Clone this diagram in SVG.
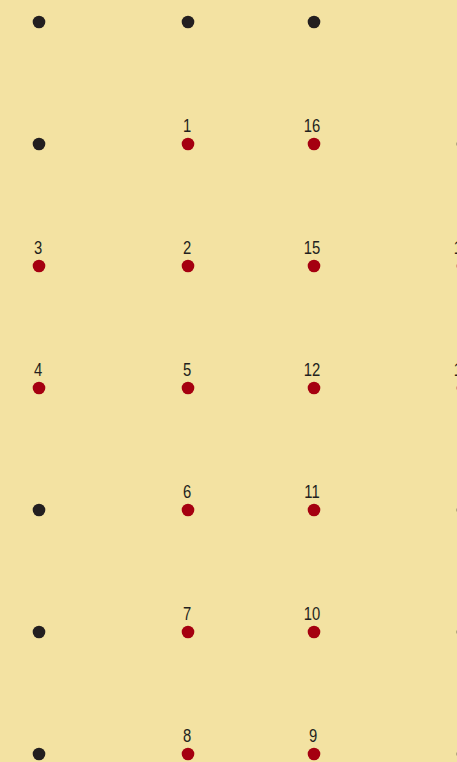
<svg xmlns="http://www.w3.org/2000/svg" width="457" height="762" viewBox="0 0 457 762">
<style>
.bg{fill:#F3E2A2}
.k{fill:#231F20}
.r{fill:#A50010}
.t{font-family:"Liberation Sans",Arial,sans-serif;font-size:19px;fill:#231F20;text-anchor:middle}
</style>
<rect class="bg" width="457" height="762"/>
<g id="grid-plain">
<circle class="k" cx="39" cy="22" r="6.3"/>
<circle class="k" cx="188" cy="22" r="6.3"/>
<circle class="k" cx="314" cy="22" r="6.3"/>
<circle class="k" cx="464" cy="22" r="6.3"/>
<circle class="k" cx="39" cy="144" r="6.3"/>
<circle class="k" cx="463" cy="144" r="6.3"/>
<circle class="k" cx="39" cy="510" r="6.3"/>
<circle class="k" cx="463" cy="510" r="6.3"/>
<circle class="k" cx="39" cy="632" r="6.3"/>
<circle class="k" cx="463" cy="632" r="6.3"/>
<circle class="k" cx="39" cy="754" r="6.3"/>
<circle class="k" cx="463" cy="754" r="6.3"/>
</g>
<g id="n1"><circle class="r" cx="188" cy="144" r="6.3"/><text class="t" transform="translate(187 132) scale(0.78 1)">1</text></g>
<g id="n2"><circle class="r" cx="188" cy="266" r="6.3"/><text class="t" transform="translate(187 254) scale(0.78 1)">2</text></g>
<g id="n3"><circle class="r" cx="39" cy="266" r="6.3"/><text class="t" transform="translate(38 254) scale(0.78 1)">3</text></g>
<g id="n4"><circle class="r" cx="39" cy="388" r="6.3"/><text class="t" transform="translate(38 376) scale(0.78 1)">4</text></g>
<g id="n5"><circle class="r" cx="188" cy="388" r="6.3"/><text class="t" transform="translate(187 376) scale(0.78 1)">5</text></g>
<g id="n6"><circle class="r" cx="188" cy="510" r="6.3"/><text class="t" transform="translate(187 498) scale(0.78 1)">6</text></g>
<g id="n7"><circle class="r" cx="188" cy="632" r="6.3"/><text class="t" transform="translate(187 620) scale(0.78 1)">7</text></g>
<g id="n8"><circle class="r" cx="188" cy="754" r="6.3"/><text class="t" transform="translate(187 742) scale(0.78 1)">8</text></g>
<g id="n9"><circle class="r" cx="314" cy="754" r="6.3"/><text class="t" transform="translate(313 742) scale(0.78 1)">9</text></g>
<g id="n10"><circle class="r" cx="314" cy="632" r="6.3"/><text class="t" transform="translate(312 620) scale(0.78 1)">10</text></g>
<g id="n11"><circle class="r" cx="314" cy="510" r="6.3"/><text class="t" transform="translate(312 498) scale(0.78 1)">11</text></g>
<g id="n12"><circle class="r" cx="314" cy="388" r="6.3"/><text class="t" transform="translate(312 376) scale(0.78 1)">12</text></g>
<g id="n13"><circle class="r" cx="463" cy="388" r="6.3"/><text class="t" transform="translate(462 376) scale(0.78 1)">13</text></g>
<g id="n14"><circle class="r" cx="463" cy="266" r="6.3"/><text class="t" transform="translate(462 254) scale(0.78 1)">14</text></g>
<g id="n15"><circle class="r" cx="314" cy="266" r="6.3"/><text class="t" transform="translate(312 254) scale(0.78 1)">15</text></g>
<g id="n16"><circle class="r" cx="314" cy="144" r="6.3"/><text class="t" transform="translate(312 132) scale(0.78 1)">16</text></g>
<g id="connectors"></g>
</svg>
